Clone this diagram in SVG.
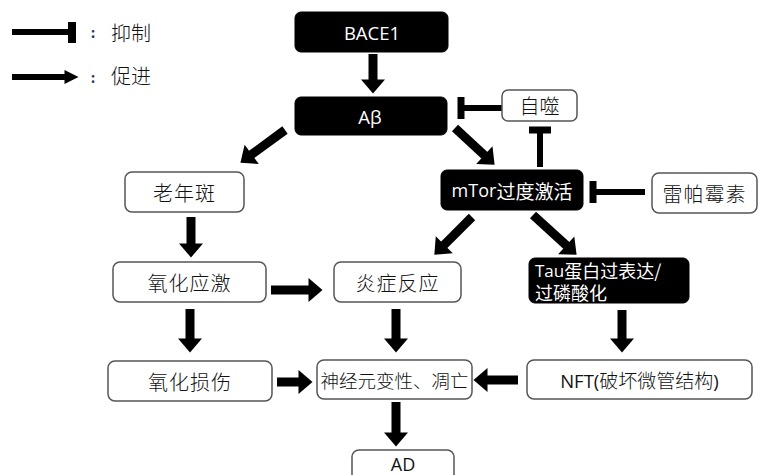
<svg xmlns="http://www.w3.org/2000/svg" width="759" height="475" viewBox="0 0 759 475">
<style>
.box{fill:#fff;stroke:#555;stroke-width:1.5}
.dark{fill:#000;stroke:#000;stroke-width:1}
.t{font-family:"Noto Sans CJK SC","Noto Sans",sans-serif;font-size:20px;font-weight:300;text-anchor:middle;dominant-baseline:central;fill:#111}
.w{fill:#fff;font-weight:400}
.lat{font-family:"Open Sans","Noto Sans","Noto Sans CJK SC",sans-serif;font-weight:400}
.ar{stroke:#000;stroke-width:9;fill:none;marker-end:url(#head)}
.inh{stroke:#000;stroke-width:6;fill:none;marker-end:url(#bar)}
</style>
<defs>
<marker id="head" markerUnits="userSpaceOnUse" markerWidth="16" markerHeight="26" refX="0.5" refY="13" orient="auto" overflow="visible">
<path d="M0,1 L14,13 L0,25 Z" fill="#000"/>
</marker>
<marker id="bar" markerUnits="userSpaceOnUse" markerWidth="8" markerHeight="22" refX="0.5" refY="11" orient="auto" overflow="visible">
<rect x="0" y="0" width="7" height="22" fill="#000"/>
</marker>
<marker id="lhead" markerUnits="userSpaceOnUse" markerWidth="16" markerHeight="14" refX="0.5" refY="7" orient="auto" overflow="visible">
<path d="M0,0 L14,7 L0,14 Z" fill="#000"/>
</marker>
</defs>

<g id="legend">
<line x1="12" y1="32" x2="68" y2="32" stroke="#000" stroke-width="6"/>
<rect x="68" y="22" width="8" height="21" fill="#000"/>
<text x="93" y="32" class="t" style="font-size:14px;fill:#1f3a60;font-weight:700">:</text>
<text x="131" y="32" class="t">抑制</text>
<line x1="12" y1="77" x2="65" y2="77" stroke="#000" stroke-width="6" marker-end="url(#lhead)"/>
<text x="93" y="77" class="t" style="font-size:14px;fill:#1f3a60;font-weight:700">:</text>
<text x="131" y="75" class="t">促进</text>
</g>

<g id="connectors">
<line class="ar" x1="373" y1="54" x2="373" y2="80"/>
<line class="ar" x1="285" y1="130" x2="251.3" y2="154.7"/>
<line class="ar" x1="455" y1="128" x2="484.7" y2="155.5"/>
<line class="ar" x1="472" y1="217" x2="443.9" y2="245.1"/>
<line class="ar" x1="533" y1="215" x2="566.6" y2="245.6"/>
<line class="ar" x1="191" y1="217" x2="191" y2="244"/>
<line class="ar" x1="271" y1="290" x2="309" y2="290"/>
<line class="ar" x1="190" y1="309" x2="190" y2="339"/>
<line class="ar" x1="396" y1="309" x2="396" y2="339"/>
<line class="ar" x1="622" y1="310" x2="622" y2="339"/>
<line class="ar" x1="518" y1="380" x2="487" y2="380"/>
<line class="ar" x1="277" y1="382" x2="299" y2="382"/>
<line class="ar" x1="396" y1="402" x2="396" y2="433"/>
<line class="inh" x1="502" y1="108" x2="464" y2="108"/>
<line class="inh" x1="540" y1="167" x2="540" y2="133"/>
<line class="inh" x1="645" y1="192" x2="596" y2="192"/>
</g>

<g id="bace1">
<rect class="dark" x="295" y="12" width="153" height="40" rx="6"/>
<text x="372" y="32" class="t w lat" style="font-size:18.5px">BACE1</text>
</g>
<g id="abeta">
<rect class="dark" x="295" y="97" width="152" height="38" rx="6"/>
<text x="370" y="116" class="t w lat" style="font-size:18.5px">Aβ</text>
</g>
<g id="autophagy">
<rect class="box" x="502" y="90" width="75" height="31" rx="6"/>
<text x="539.5" y="105.5" class="t">自噬</text>
</g>
<g id="plaque">
<rect class="box" x="125" y="172" width="119" height="40" rx="7"/>
<text x="184.5" y="192" class="t" style="letter-spacing:1px">老年斑</text>
</g>
<g id="mtor">
<rect class="dark" x="441" y="170" width="142" height="40" rx="6"/>
<text x="512" y="190" class="t w" style="font-size:19px"><tspan class="lat" style="font-size:18px">mTor</tspan>过度激活</text>
</g>
<g id="rapamycin">
<rect class="box" x="652" y="173" width="105" height="40" rx="7"/>
<text x="704.5" y="193" class="t" style="letter-spacing:1px">雷帕霉素</text>
</g>
<g id="oxstress">
<rect class="box" x="113" y="262" width="153" height="40" rx="7"/>
<text x="189.5" y="282" class="t" style="letter-spacing:1px">氧化应激</text>
</g>
<g id="inflammation">
<rect class="box" x="334" y="262" width="127" height="40" rx="7"/>
<text x="397.5" y="282" class="t" style="letter-spacing:1px">炎症反应</text>
</g>
<g id="tau">
<rect class="dark" x="529" y="258" width="160" height="45" rx="6"/>
<text x="535" y="270" class="t w" style="text-anchor:start;font-size:18px"><tspan class="lat" style="font-size:17px">Tau</tspan>蛋白过表达/</text>
<text x="535" y="292" class="t w" style="text-anchor:start;font-size:18px">过磷酸化</text>
</g>
<g id="oxdamage">
<rect class="box" x="108" y="361" width="164" height="40" rx="7"/>
<text x="190" y="381" class="t" style="letter-spacing:1px">氧化损伤</text>
</g>
<g id="neuron">
<rect class="box" x="317" y="360" width="155" height="39" rx="7"/>
<text x="394.5" y="379.5" class="t" style="font-size:18.5px">神经元变性、凋亡</text>
</g>
<g id="nft">
<rect class="box" x="527" y="360" width="225" height="39" rx="7"/>
<text x="639.5" y="379.5" class="t" style="font-size:19px"><tspan class="lat" style="font-size:18.5px">NFT(</tspan>破坏微管结构<tspan class="lat" style="font-size:18.5px">)</tspan></text>
</g>
<g id="ad">
<rect class="box" x="352" y="450" width="102" height="35" rx="7"/>
<text x="403" y="464" class="t lat" style="font-size:18px">AD</text>
</g>
</svg>
